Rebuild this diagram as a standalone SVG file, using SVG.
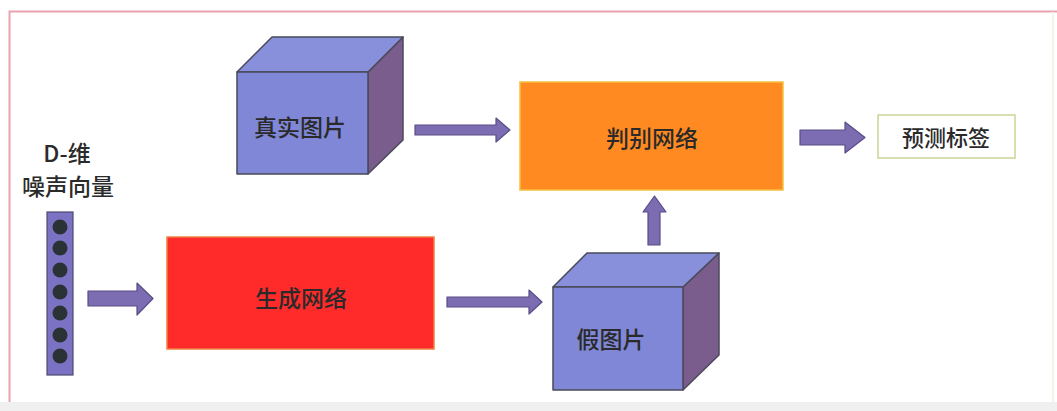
<svg xmlns="http://www.w3.org/2000/svg" width="1057" height="411" viewBox="0 0 1057 411">
<defs>
<style>
.t{font-family:"Noto Sans CJK SC","Liberation Sans",sans-serif;font-size:23px;fill:#2a2a2a;text-anchor:middle;dominant-baseline:central;font-weight:500}
.front{fill:#7f87d6;stroke:#4a4a5a;stroke-width:1.5;stroke-linejoin:round}
.top{fill:#8890dc;stroke:#4a4a5a;stroke-width:1.5;stroke-linejoin:round}
.side{fill:#7a5d8c;stroke:#4a4a5a;stroke-width:1.5;stroke-linejoin:round}
.arr{fill:#7c6cb2;stroke:#5a4d86;stroke-width:1.2;stroke-linejoin:round}
.dot{fill:#2b3236}
</style>
</defs>
<rect x="0" y="0" width="1057" height="411" fill="#ffffff"/>
<rect x="0" y="402" width="1057" height="9" fill="#f0f0f0"/>
<path d="M9.5 402 V11.5 H1057" fill="none" stroke="#e7a3b0" stroke-width="2"/>
<line x1="1053" y1="12" x2="1053" y2="402" stroke="#eef6ea" stroke-width="2"/>

<g id="noise-label">
<text class="t" x="67" y="152">D-维</text>
<text class="t" x="68" y="185">噪声向量</text>
</g>

<g id="noise-vector">
<rect x="47" y="212" width="26" height="163" fill="#7c72c4" stroke="#4d4a70" stroke-width="1.2"/>
<circle class="dot" cx="60" cy="227" r="7.5"/>
<circle class="dot" cx="60" cy="248" r="7.5"/>
<circle class="dot" cx="60" cy="270" r="7.5"/>
<circle class="dot" cx="60" cy="292" r="7.5"/>
<circle class="dot" cx="60" cy="313" r="7.5"/>
<circle class="dot" cx="60" cy="335" r="7.5"/>
<circle class="dot" cx="60" cy="356" r="7.5"/>
</g>

<g id="real-image">
<polygon class="side" points="368,72 403,37 403,140 368,174"/>
<polygon class="top" points="237,72 272,37 403,37 368,72"/>
<rect class="front" x="237" y="72" width="131" height="102"/>
<text class="t" x="300" y="126">真实图片</text>
</g>

<g id="generator">
<rect x="167" y="237" width="267" height="112" fill="#ff2b2b" stroke="#f08040" stroke-width="1.5"/>
<text class="t" x="301" y="297">生成网络</text>
</g>

<g id="fake-image">
<polygon class="side" points="683,287 719,253 719,355 683,390"/>
<polygon class="top" points="553,287 587,253 719,253 683,287"/>
<rect class="front" x="553" y="287" width="130" height="103"/>
<text class="t" x="611" y="338">假图片</text>
</g>

<g id="discriminator">
<rect x="520" y="82" width="263" height="108" fill="#ff8a22" stroke="#f5c040" stroke-width="1.5"/>
<text class="t" x="652" y="137">判别网络</text>
</g>

<g id="predicted-label">
<rect x="878" y="115" width="137" height="43" fill="#ffffff" stroke="#c9d596" stroke-width="1.5"/>
<text class="t" x="946" y="136" style="font-size:22px">预测标签</text>
</g>

<g id="connectors">
<polygon class="arr" points="88,291 137,291 137,283 153,298.5 137,315 137,306 88,306"/>
<polygon class="arr" points="447,297 529,297 529,290 542,302 529,314 529,307 447,307"/>
<polygon class="arr" points="648,245 648,212 643,212 654.5,196 666,212 660,212 660,245"/>
<polygon class="arr" points="415,125 496,125 496,118 510,130 496,142 496,135 415,135"/>
<polygon class="arr" points="800,130 845,130 845,122 865,137.5 845,153 845,145 800,145"/>
</g>
</svg>
